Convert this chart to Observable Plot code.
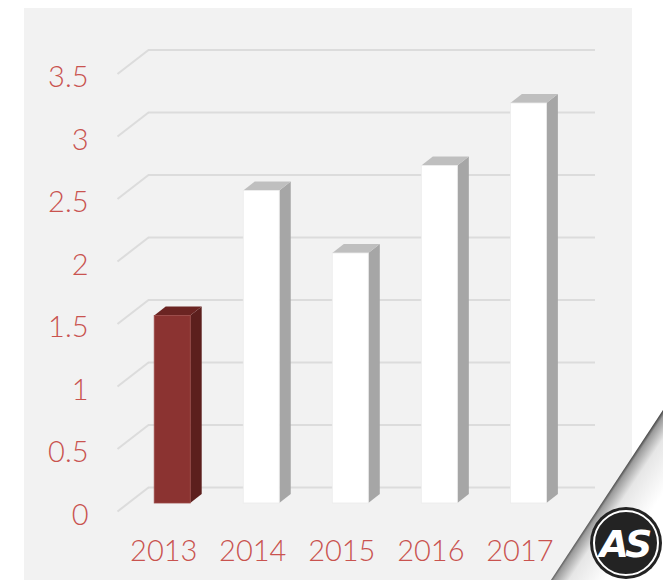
<!DOCTYPE html>
<html><head><meta charset="utf-8">
<script src="https://cdn.jsdelivr.net/npm/d3@7"></script>
<script src="https://cdn.jsdelivr.net/npm/@observablehq/plot@0.6"></script>
<style>
html,body{margin:0;padding:0;background:#fff;}
#wrap{position:relative;width:663px;height:580px;overflow:hidden;}
#panel{position:absolute;left:24px;top:8px;width:608px;height:572px;background:#f2f2f2;}
#chart{position:absolute;left:0;top:0;}
#chart svg{background:transparent;overflow:visible;}
#logo{position:absolute;left:0;top:0;}
</style></head><body>
<div id="wrap">
  <div id="panel"></div>
  <div id="chart"></div>
  <svg id="logo" width="663" height="580" viewBox="0 0 663 580">
    <defs>
      <linearGradient id="curl" gradientUnits="userSpaceOnUse" x1="606" y1="495" x2="645" y2="521">
        <stop offset="0" stop-color="#3a3a3a"/>
        <stop offset="0.08" stop-color="#9a9a9a"/>
        <stop offset="0.35" stop-color="#e6e6e6"/>
        <stop offset="1" stop-color="#ffffff"/>
      </linearGradient>
    </defs>
    <polygon points="551,580 663,410 663,580" fill="url(#curl)"/>
    <circle cx="626" cy="543" r="36" fill="#232323"/>
    <circle cx="626" cy="543" r="32" fill="none" stroke="#ffffff" stroke-width="2"/>
    <text x="624" y="557" text-anchor="middle" fill="#ffffff" font-family="DejaVu Sans" font-weight="bold" font-style="italic" font-size="38" letter-spacing="-4">AS</text>
  </svg>
</div>
<script>
// ---- data ----
const years = [2013, 2014, 2015, 2016, 2017];
const values = [1.5, 2.5, 2.0, 2.7, 3.2];
const highlightYear = 2013;
const yTicks = [0, 0.5, 1, 1.5, 2, 2.5, 3, 3.5];
const yTickLabels = ["0", "0.5", "1", "1.5", "2", "2.5", "3", "3.5"];
const xTickLabels = ["2013", "2014", "2015", "2016", "2017"];

// ---- styling / perspective (in axis units) ----
const xDomain = [2012.38, 2017.40];
const pxPerYear = 447 / (xDomain[1] - xDomain[0]);
const pxPerUnit = 125;
const wallDX = 31 / pxPerYear, wallDY = 24 / pxPerUnit;   // depth of back wall
const barDX = 11.5 / pxPerYear, barDY = 9 / pxPerUnit;    // depth of each bar
const halfW = 18 / pxPerYear;
const labelColor = "#c9534f";
const font = "Lato, 'Open Sans', sans-serif";

const bars = years.map((y, i) => ({year: y, value: values[i], hi: y === highlightYear}));
const col = {
  front: d => d.hi ? "#8b3331" : "#ffffff",
  side: d => d.hi ? "#5c1f1d" : "#a6a6a6",
  top: d => d.hi ? "#6b2422" : "#bfbfbf"
};

const sidePts = bars.flatMap(d => [
  {year: d.year, hi: d.hi, x: d.year + halfW, y1: 0, y2: d.value},
  {year: d.year, hi: d.hi, x: d.year + halfW + barDX, y1: barDY, y2: d.value + barDY}
]);
const topPts = bars.flatMap(d => [
  {year: d.year, hi: d.hi, x: d.year - halfW, y1: d.value, y2: d.value},
  {year: d.year, hi: d.hi, x: d.year - halfW + barDX, y1: d.value, y2: d.value + barDY},
  {year: d.year, hi: d.hi, x: d.year + halfW, y1: d.value, y2: d.value + barDY},
  {year: d.year, hi: d.hi, x: d.year + halfW + barDX, y1: d.value + barDY, y2: d.value + barDY}
]);

const plot = Plot.plot({
  width: 663,
  height: 580,
  marginLeft: 117,
  marginRight: 99,
  marginTop: 73.5,
  marginBottom: 69,
  style: {background: "transparent", fontFamily: font},
  x: {type: "linear", domain: xDomain, axis: null},
  y: {domain: [0, 3.5], axis: null},
  marks: [
    Plot.ruleY(yTicks, {y: d => d + wallDY, x1: () => xDomain[0] + wallDX, x2: () => xDomain[1] + wallDX,
      stroke: "#dcdcdc", strokeWidth: 2}),
    Plot.link(yTicks, {x1: () => xDomain[0], y1: d => d, x2: () => xDomain[0] + wallDX, y2: d => d + wallDY,
      stroke: "#dcdcdc", strokeWidth: 2}),
    Plot.areaY(sidePts, {x: "x", y1: "y1", y2: "y2", z: "year", fill: col.side, curve: "linear", dy: -8}),
    Plot.areaY(topPts, {x: "x", y1: "y1", y2: "y2", z: "year", fill: col.top, curve: "linear", dy: -8}),
    Plot.rect(bars, {x1: d => d.year - halfW, x2: d => d.year + halfW, y1: 0, y2: "value",
      fill: col.front, stroke: d => d.hi ? "#9c4a47" : "#ececec", strokeWidth: 0.8, dy: -8}),
    Plot.text(yTicks, {x: () => xDomain[0], y: d => d, text: (d, i) => yTickLabels[i],
      textAnchor: "end", dx: -29, dy: 4, fill: labelColor, fontSize: 29, fontWeight: 300}),
    Plot.text(years, {x: d => d, y: () => 0, text: (d, i) => xTickLabels[i],
      dx: -9, dy: 40, fill: labelColor, fontSize: 29, fontWeight: 300})
  ]
});
document.getElementById("chart").append(plot);
</script>
</body></html>
